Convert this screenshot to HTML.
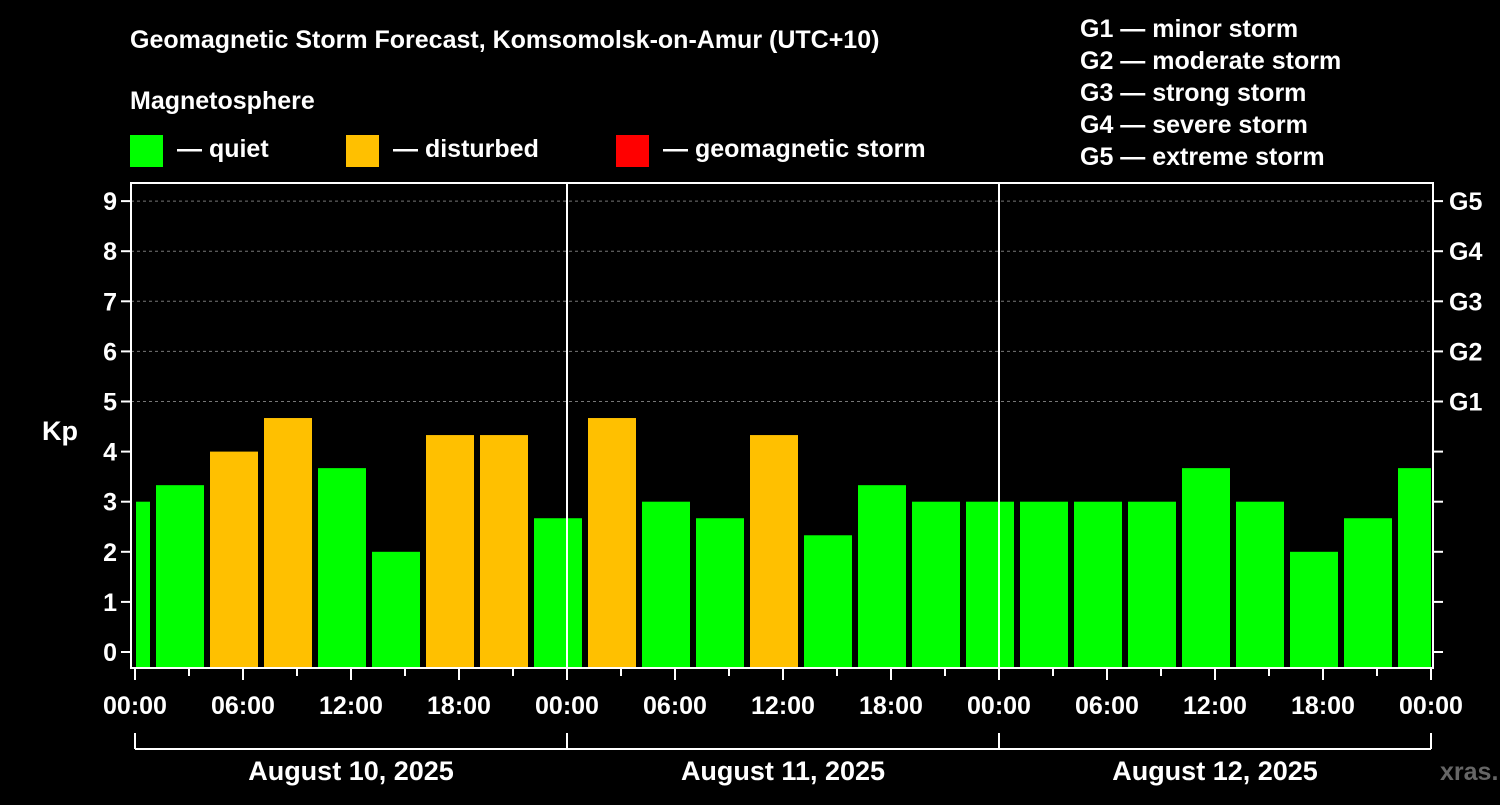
<!DOCTYPE html>
<html><head><meta charset="utf-8"><style>
body{margin:0;background:#000;width:1500px;height:800px;overflow:hidden}
svg text{font-family:"Liberation Sans",Arial,sans-serif;font-weight:bold;fill:#fff}
</style></head><body>
<svg id="chart" width="1500" height="800" xmlns="http://www.w3.org/2000/svg">
<rect width="1500" height="800" fill="#000"/>
<text x="130" y="48" font-size="25">Geomagnetic Storm Forecast, Komsomolsk-on-Amur (UTC+10)</text>
<text x="130" y="109" font-size="25">Magnetosphere</text>
<g>
<rect x="130" y="135" width="33" height="32" fill="#00ff00"/>
<text x="177" y="157" font-size="25">— quiet</text>
<rect x="346" y="135" width="33" height="32" fill="#ffc000"/>
<text x="393" y="157" font-size="25">— disturbed</text>
<rect x="616" y="135" width="33" height="32" fill="#ff0000"/>
<text x="663" y="157" font-size="25">— geomagnetic storm</text>
</g>
<g font-size="25">
<text x="1080" y="37">G1 — minor storm</text>
<text x="1080" y="69">G2 — moderate storm</text>
<text x="1080" y="101">G3 — strong storm</text>
<text x="1080" y="133">G4 — severe storm</text>
<text x="1080" y="165">G5 — extreme storm</text>
</g>
<g id="grid"></g>
<g id="bars"></g>
<g id="axes"></g>
<text x="42" y="440" font-size="27">Kp</text>
<text x="1440" y="780" font-size="25" fill="#555" style="fill:#666">xras.ru</text>
</svg>
<script>
const kpValues=[3.0,3.33,4.0,4.67,3.67,2.0,4.33,4.33,2.67,4.67,3.0,2.67,4.33,2.33,3.33,3.0,3.0,3.0,3.0,3.0,3.67,3.0,2.0,2.67,3.67];
const hourTickLabels=["00:00","06:00","12:00","18:00","00:00","06:00","12:00","18:00","00:00","06:00","12:00","18:00","00:00"];
const dayLabels=["August 10, 2025","August 11, 2025","August 12, 2025"];
const kpTicks=[0,1,2,3,4,5,6,7,8,9];
const gLabels=["G1","G2","G3","G4","G5"];
const NS="http://www.w3.org/2000/svg";
const L=131,R=1433,T=183,B=668,X0=135,pxH=18;
const y=v=>652-v*50.1;
const xh=h=>X0+h*pxH;
function mk(tag,attrs,parent,txt){const e=document.createElementNS(NS,tag);for(const k in attrs)e.setAttribute(k,attrs[k]);if(txt!=null)e.textContent=txt;document.getElementById(parent).appendChild(e);return e;}
// grid
for(let v=5;v<=9;v++){const g=mk('line',{x1:L,x2:R,y1:y(v),y2:y(v),stroke:'#777','stroke-dasharray':'3,3'},'grid');

}
// bars: 3-hour bins, first bin centered at -0.5h
kpValues.forEach((v,i)=>{const c=xh(-0.5+3*i);let x1=c-24,x2=c+24;x1=Math.max(x1,L+5);x2=Math.min(x2,R-2);
const b=mk('rect',{x:x1,y:y(v),width:x2-x1,height:B-y(v),fill:v>=5?'#ff0000':(v>=4?'#ffc000':'#00ff00')},'bars');

});
// axes frame
const fr=mk('rect',{x:L,y:T,width:R-L,height:B-T,fill:'none',stroke:'#fff','stroke-width':2},'axes');


[1,2].forEach(d=>{const l=mk('line',{x1:xh(24*d),x2:xh(24*d),y1:T,y2:B,stroke:'#fff','stroke-width':2},'axes');

});
kpTicks.forEach(v=>{mk('line',{x1:L-10,x2:L,y1:y(v),y2:y(v),stroke:'#fff','stroke-width':2},'axes');
mk('line',{x1:R,x2:R+10,y1:y(v),y2:y(v),stroke:'#fff','stroke-width':2},'axes');
const t=mk('text',{x:L-14,y:y(v)+9,'font-size':25,'text-anchor':'end'},'axes',String(v));

});
gLabels.forEach((g,i)=>{const t=mk('text',{x:1449,y:y(5+i)+9,'font-size':25},'axes',g);

});
for(let h=0;h<=72;h+=3){const major=h%6===0;mk('line',{x1:xh(h),x2:xh(h),y1:B,y2:B+(major?12:8),stroke:'#fff','stroke-width':2},'axes');}
hourTickLabels.forEach((s,i)=>{const t=mk('text',{x:xh(6*i),y:714,'font-size':25,'text-anchor':'middle'},'axes',s);

});
mk('line',{x1:xh(0),x2:xh(72),y1:749,y2:749,stroke:'#fff','stroke-width':2},'axes');
for(let d=0;d<=3;d++)mk('line',{x1:xh(24*d),x2:xh(24*d),y1:733,y2:749,stroke:'#fff','stroke-width':2},'axes');
dayLabels.forEach((s,i)=>{const t=mk('text',{x:xh(24*i+12),y:780,'font-size':27,'text-anchor':'middle'},'axes',s);

});
</script>
</body></html>
